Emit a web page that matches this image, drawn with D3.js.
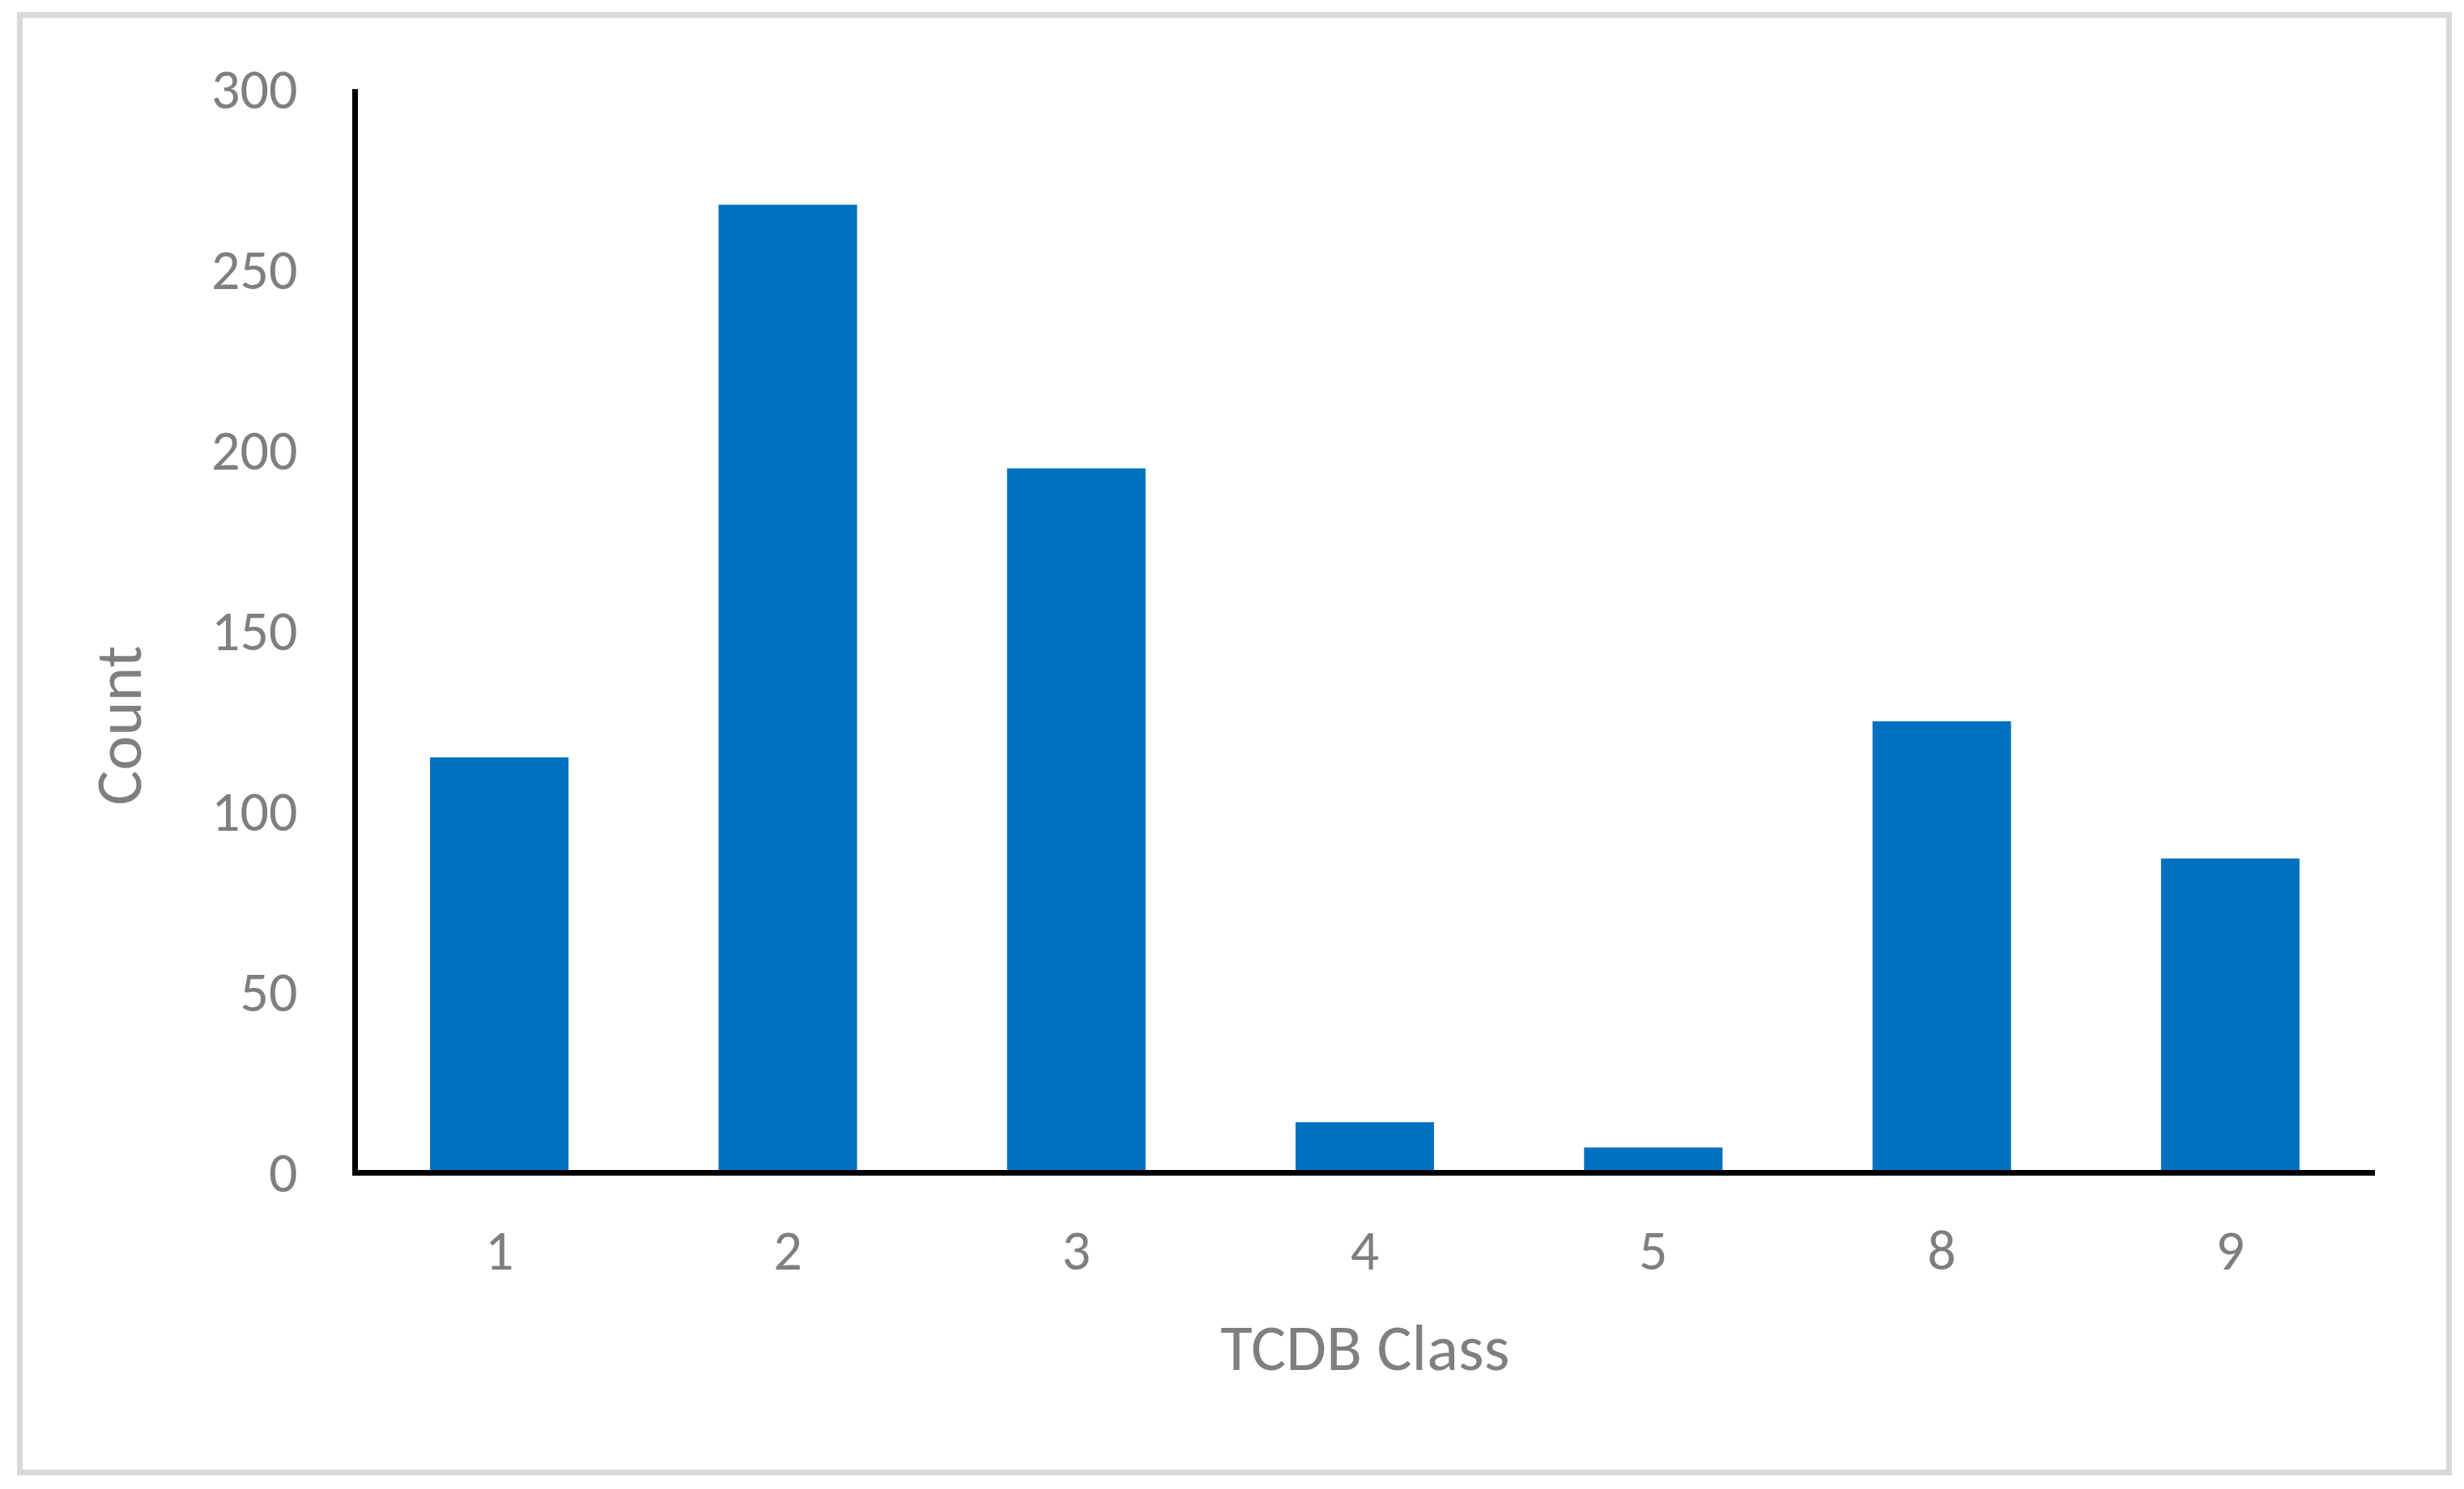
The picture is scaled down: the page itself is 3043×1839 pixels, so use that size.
<!DOCTYPE html>
<html>
<head>
<meta charset="utf-8">
<script src="https://cdn.jsdelivr.net/npm/d3@7"></script>
<style>
  html, body { margin: 0; padding: 0; background: #ffffff; }
  svg { display: block; }
</style>
</head>
<body>
<script>
const categories = ["1", "2", "3", "4", "5", "8", "9"];
const counts = [115, 268, 195, 14, 7, 125, 87];
const yTicks = [0, 50, 100, 150, 200, 250, 300];
const xTitle = "TCDB Class";
const yTitle = "Count";

const W = 3043, H = 1839;
const FONT = "Carlito, Calibri, Lato, 'Open Sans', sans-serif";
const TXT = "#7f7f7f";

const svg = d3.select("body").append("svg")
  .attr("width", W).attr("height", H);

svg.append("rect").attr("width", W).attr("height", H).attr("fill", "#fff");

// outer chart border
svg.append("rect")
  .attr("x", 24.5).attr("y", 18.5)
  .attr("width", 3000).attr("height", 1800)
  .attr("fill", "none").attr("stroke", "#d9d9d9").attr("stroke-width", 7);

const x = d3.scaleBand().domain(categories)
  .range([438.5, 2932.5]).paddingInner(0.52).paddingOuter(0.26);
const y = d3.scaleLinear().domain([0, 300]).range([1448.5, 110]);

// bars
svg.append("g").selectAll("rect").data(categories).join("rect")
  .attr("x", d => x(d))
  .attr("width", x.bandwidth())
  .attr("y", (d, i) => y(counts[i]))
  .attr("height", (d, i) => y(0) - y(counts[i]))
  .attr("fill", "#0070c0");

// y axis
const yAxis = d3.axisLeft(y).tickValues(yTicks).tickSize(0).tickPadding(71)
  .tickFormat(d3.format("d"));
const gy = svg.append("g").attr("transform", "translate(438.5,0)").call(yAxis);
gy.select(".domain").attr("stroke", "#000").attr("stroke-width", 7)
  .attr("d", `M0,${y(300)}V${y(0) + 3.5}`);
gy.selectAll(".tick text")
  .attr("font-family", FONT).attr("font-size", 70).attr("fill", TXT)
  .attr("dy", null).attr("y", 23);

// x axis
const xAxis = d3.axisBottom(x).tickSize(0).tickPadding(0);
const gx = svg.append("g").attr("transform", `translate(0,${y(0)})`).call(xAxis);
gx.select(".domain").attr("stroke", "#000").attr("stroke-width", 7)
  .attr("d", `M${438.5 - 3.5},0H2933`);
gx.selectAll(".tick text")
  .attr("font-family", FONT).attr("font-size", 70).attr("fill", TXT)
  .attr("dy", null).attr("y", 119.5);

// axis titles
svg.append("text")
  .attr("x", (438.5 + 2933) / 2).attr("y", 1692)
  .attr("text-anchor", "middle")
  .attr("font-family", FONT).attr("font-size", 81).attr("fill", TXT)
  .text(xTitle);

svg.append("text")
  .attr("transform", "translate(174,896) rotate(-90)")
  .attr("text-anchor", "middle")
  .attr("font-family", FONT).attr("font-size", 81).attr("fill", TXT)
  .text(yTitle);
</script>
</body>
</html>
